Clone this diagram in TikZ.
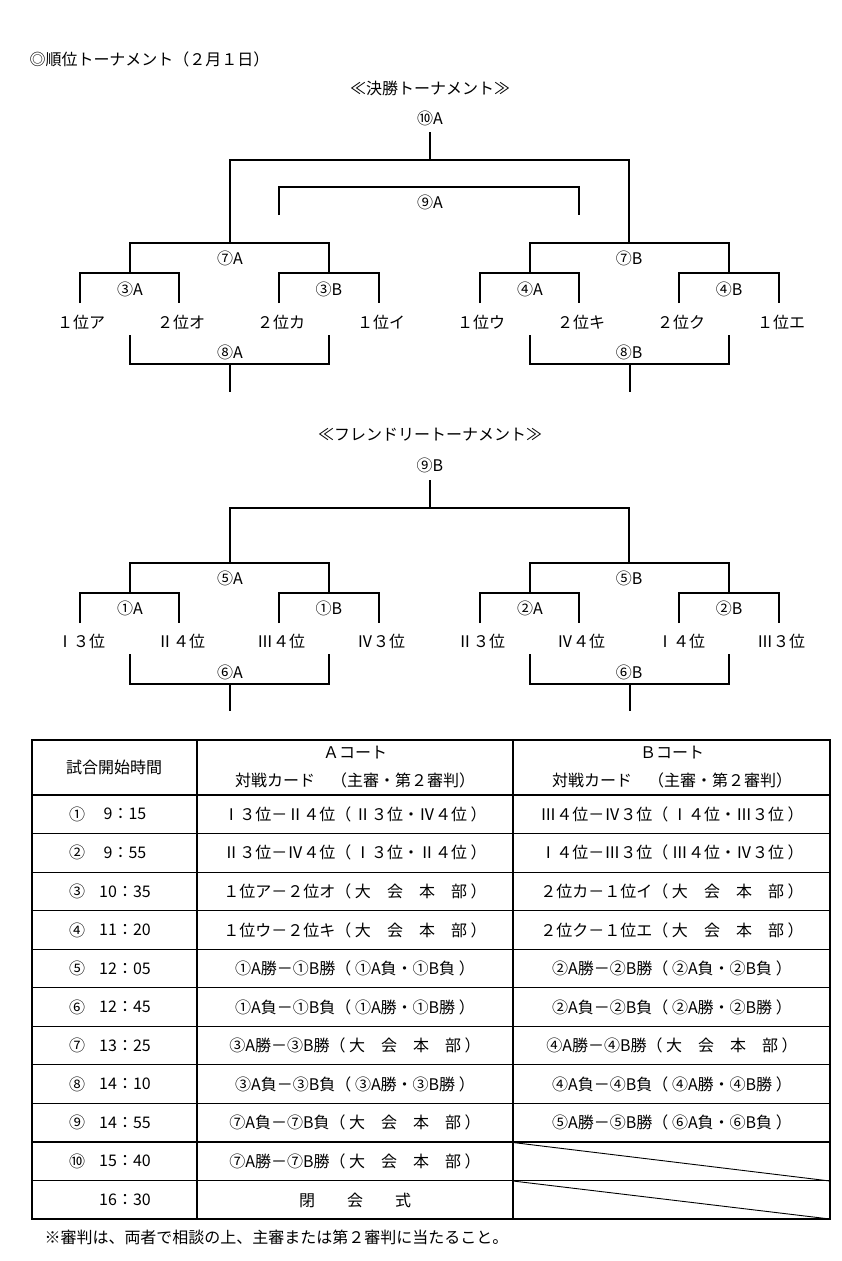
\documentclass[tikz,border=0pt]{standalone}
\usepackage{fontspec}
\setmainfont{Noto Sans CJK JP}
\begin{document}
\begin{tikzpicture}[x=1pt,y=-1pt,line width=1pt,
  txt/.style={inner sep=0pt,font=\fontsize{16}{18}\selectfont},
  br/.style={line width=1.1pt}]
\useasboundingbox (0,0) rectangle (841,1261);
% title
\node[txt,anchor=west] (title) at (29,59) {◎順位トーナメント（２月１日）};
% ---------- final tournament ----------
\node[txt] (t1) at (430,88) {≪決勝トーナメント≫};
\node[txt] (m10A) at (430,118) {⑩A};
\draw[br] (430,132) -- (430,160);
\draw[br] (230,243) |- (629,160) -- (629,243);
\draw[br] (279,215) |- (579,187) -- (579,215);
\node[txt] (m9A) at (430,202) {⑨A};
\foreach \o in {0,400}{
  \draw[br] (130+\o,273) |- (329+\o,243) -- (329+\o,273);
  \draw[br] (80+\o,303) |- (179+\o,273) -- (179+\o,303);
  \draw[br] (279+\o,303) |- (379+\o,273) -- (379+\o,303);
  \draw[br] (130+\o,335) |- (329+\o,364) -- (329+\o,335);
  \draw[br] (230+\o,364) -- (230+\o,392);
}
\node[txt] (m7A) at (230,258) {⑦A};
\node[txt] (m7B) at (629,258) {⑦B};
\node[txt] (m3A) at (130,289) {③A};
\node[txt] (m3B) at (329,289) {③B};
\node[txt] (m4A) at (530,289) {④A};
\node[txt] (m4B) at (729,289) {④B};
\node[txt] (m8A) at (230,352) {⑧A};
\node[txt] (m8B) at (629,352) {⑧B};
\node[txt] (l1) at (81,322) {１位ア};
\node[txt] (l2) at (181,322) {２位オ};
\node[txt] (l3) at (281,322) {２位カ};
\node[txt] (l4) at (381,322) {１位イ};
\node[txt] (l5) at (481,322) {１位ウ};
\node[txt] (l6) at (581,322) {２位キ};
\node[txt] (l7) at (681,322) {２位ク};
\node[txt] (l8) at (781,322) {１位エ};
% ---------- friendly tournament ----------
\node[txt] (t2) at (430,435) {≪フレンドリートーナメント≫};
\node[txt] (m9B) at (430,465) {⑨B};
\draw[br] (430,480) -- (430,508);
\draw[br] (230,563) |- (629,508) -- (629,563);
\foreach \o in {0,400}{
  \draw[br] (130+\o,593) |- (329+\o,563) -- (329+\o,593);
  \draw[br] (80+\o,623) |- (179+\o,593) -- (179+\o,623);
  \draw[br] (279+\o,623) |- (379+\o,593) -- (379+\o,623);
  \draw[br] (130+\o,654) |- (329+\o,684) -- (329+\o,654);
  \draw[br] (230+\o,684) -- (230+\o,711);
}
\node[txt] (m5A) at (230,578) {⑤A};
\node[txt] (m5B) at (629,578) {⑤B};
\node[txt] (m1A) at (130,608) {①A};
\node[txt] (m1B) at (329,608) {①B};
\node[txt] (m2A) at (530,608) {②A};
\node[txt] (m2B) at (729,608) {②B};
\node[txt] (m6A) at (230,672) {⑥A};
\node[txt] (m6B) at (629,672) {⑥B};
\node[txt] (f1) at (81,641) {Ⅰ３位};
\node[txt] (f2) at (181,641) {Ⅱ４位};
\node[txt] (f3) at (281,641) {Ⅲ４位};
\node[txt] (f4) at (381,641) {Ⅳ３位};
\node[txt] (f5) at (481,641) {Ⅱ３位};
\node[txt] (f6) at (581,641) {Ⅳ４位};
\node[txt] (f7) at (681,641) {Ⅰ４位};
\node[txt] (f8) at (781,641) {Ⅲ３位};
% ---------- table ----------
\draw[br] (32,740) rectangle (830,1219);
\draw[br] (197,740) -- (197,1219);
\draw[br] (513,740) -- (513,1219);
\draw[br] (32,795) -- (830,795);
\foreach \k in {1,...,10}{
  \draw[br] (32,795+38.55*\k) -- (830,795+38.55*\k);
}
\draw[line width=0.9pt] (513,1142.5) -- (830,1181);
\draw[line width=0.9pt] (513,1181) -- (830,1219);
\node[txt] (h1) at (114,767) {試合開始時間};
\node[txt] (h2a) at (355,753) {Ａコート};
\node[txt] (h2b) at (355,780) {対戦カード　（主審・第２審判）};
\node[txt] (h3a) at (672,753) {Ｂコート};
\node[txt] (h3b) at (672,780) {対戦カード　（主審・第２審判）};
\foreach \k/\n/\t/\a/\b in {
 0/①/9：15/{Ⅰ３位－Ⅱ４位（ Ⅱ３位・Ⅳ４位 ）}/{Ⅲ４位－Ⅳ３位（ Ⅰ４位・Ⅲ３位 ）},
 1/②/9：55/{Ⅱ３位－Ⅳ４位（ Ⅰ３位・Ⅱ４位 ）}/{Ⅰ４位－Ⅲ３位（ Ⅲ４位・Ⅳ３位 ）},
 2/③/10：35/{１位ア－２位オ（ 大　会　本　部 ）}/{２位カ－１位イ（ 大　会　本　部 ）},
 3/④/11：20/{１位ウ－２位キ（ 大　会　本　部 ）}/{２位ク－１位エ（ 大　会　本　部 ）},
 4/⑤/12：05/{①A勝－①B勝（ ①A負・①B負 ）}/{②A勝－②B勝（ ②A負・②B負 ）},
 5/⑥/12：45/{①A負－①B負（ ①A勝・①B勝 ）}/{②A負－②B負（ ②A勝・②B勝 ）},
 6/⑦/13：25/{③A勝－③B勝（ 大　会　本　部 ）}/{④A勝－④B勝（ 大　会　本　部 ）},
 7/⑧/14：10/{③A負－③B負（ ③A勝・③B勝 ）}/{④A負－④B負（ ④A勝・④B勝 ）},
 8/⑨/14：55/{⑦A負－⑦B負（ 大　会　本　部 ）}/{⑤A勝－⑤B勝（ ⑥A負・⑥B負 ）},
 9/⑩/15：40/{⑦A勝－⑦B勝（ 大　会　本　部 ）}/{}}{
  \node[txt] (n\k) at (77,{795+38.55*(\k+0.5)}) {\n};
  \node[txt] (t\k) at (125,{795+38.55*(\k+0.5)}) {\t};
  \node[txt] (a\k) at (355,{795+38.55*(\k+0.5)}) {\a};
  \node[txt] (b\k) at (672,{795+38.55*(\k+0.5)}) {\b};
}
\node[txt] (t10) at (125,1200) {16：30};
\node[txt] (a10) at (355,1200) {閉　　会　　式};
% note
\node[txt,anchor=west] (note) at (44,1237) {※審判は、両者で相談の上、主審または第２審判に当たること。};
\end{tikzpicture}
\end{document}
